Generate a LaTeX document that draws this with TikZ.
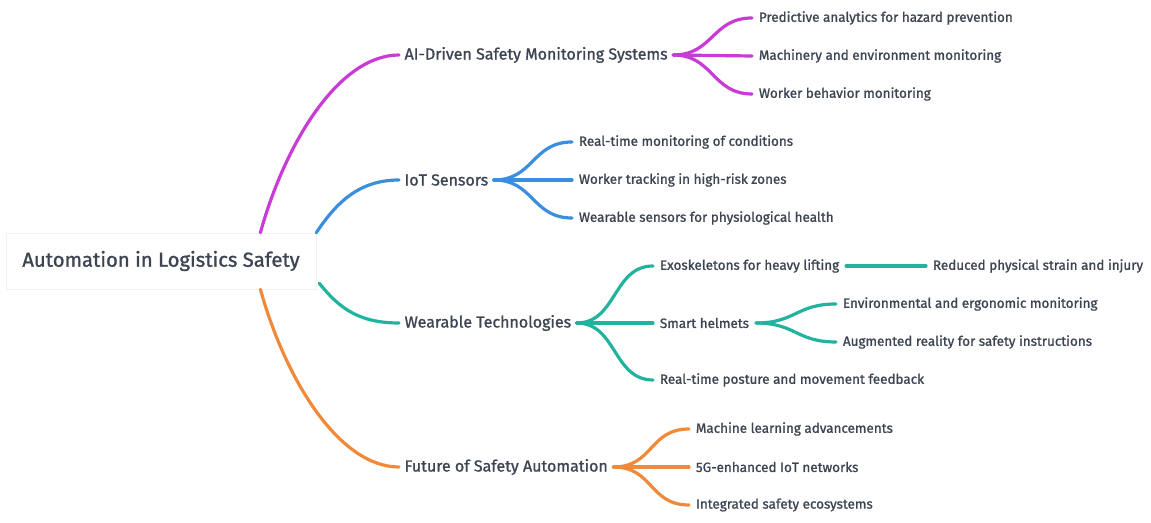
\documentclass[tikz,border=0pt]{standalone}
\usepackage{fontspec}
\setmainfont{Fira Sans}[FakeBold=1.2]
\usetikzlibrary{calc}
\definecolor{txt}{HTML}{3D4452}
\definecolor{cpur}{HTML}{C83BD6}
\definecolor{cblu}{HTML}{3A8EE0}
\definecolor{cgrn}{HTML}{22B39E}
\definecolor{corg}{HTML}{F08A3A}
\begin{document}
\begin{tikzpicture}[x=0.75pt,y=-0.75pt,
  lbl/.style={anchor=west,inner xsep=5pt,inner ysep=2pt,text=txt,font=\fontsize{10.1}{12}\selectfont},
  main/.style={anchor=west,inner xsep=4pt,inner ysep=2pt,text=txt,font=\fontsize{12}{14}\selectfont},
  conn/.style={line width=2.4pt,line cap=round}]
\useasboundingbox (0,0) rectangle (1151,523);
% root
\node[draw=black!5,fill=white,minimum width=310*0.75pt,minimum height=56*0.75pt,inner sep=0pt,text=txt,font=\fontsize{15.2}{17}\selectfont] (root) at (161,261) {Automation in Logistics Safety};
% level 1
\node[main] (a) at (399,55) {AI-Driven Safety Monitoring Systems};
\node[main] (b) at (399,180) {IoT Sensors};
\node[main] (c) at (399,323) {Wearable Technologies};
\node[main] (d) at (399,467) {Future of Safety Automation};
% AI
\node[lbl] (a1) at (752,18) {Predictive analytics for hazard prevention};
\node[lbl] (a2) at (752,56) {Machinery and environment monitoring};
\node[lbl] (a3) at (752,94) {Worker behavior monitoring};
% IoT
\node[lbl] (b1) at (572,142) {Real-time monitoring of conditions};
\node[lbl] (b2) at (572,180) {Worker tracking in high-risk zones};
\node[lbl] (b3) at (572,218) {Wearable sensors for physiological health};
% Wearable
\node[lbl] (c1) at (653,266) {Exoskeletons for heavy lifting};
\node[lbl] (c1r) at (926,266) {Reduced physical strain and injury};
\node[lbl] (c2) at (653,323) {Smart helmets};
\node[lbl] (c2a) at (836,304) {Environmental and ergonomic monitoring};
\node[lbl] (c2b) at (836,342) {Augmented reality for safety instructions};
\node[lbl] (c3) at (653,380) {Real-time posture and movement feedback};
% Future
\node[lbl] (d1) at (689,429) {Machine learning advancements};
\node[lbl] (d2) at (689,467) {5G-enhanced IoT networks};
\node[lbl] (d3) at (689,505) {Integrated safety ecosystems};
% root connectors
\draw[conn,cpur] ($(root.north west)!0.82!(root.north east)$) .. controls +(25,-90) and +(-60,0) .. (a.west);
\draw[conn,cblu] (root.north east) .. controls +(20,-30) and +(-40,0) .. (b.west);
\draw[conn,cgrn] ($(root.south east)+(3,-6)$) .. controls +(20,25) and +(-40,0) .. (c.west);
\draw[conn,corg] ($(root.south west)!0.82!(root.south east)$) .. controls +(25,90) and +(-60,0) .. (d.west);
% child connectors
\foreach \t in {a1,a2,a3}{\draw[conn,cpur] (a.east) .. controls +(40,0) and +(-40,0) .. (\t.west);}
\foreach \t in {b1,b2,b3}{\draw[conn,cblu] (b.east) .. controls +(40,0) and +(-40,0) .. (\t.west);}
\foreach \t in {c1,c2,c3}{\draw[conn,cgrn] (c.east) .. controls +(40,0) and +(-40,0) .. (\t.west);}
\draw[conn,cgrn] (c1.east) -- (c1r.west);
\foreach \t in {c2a,c2b}{\draw[conn,cgrn] (c2.east) .. controls +(40,0) and +(-40,0) .. (\t.west);}
\foreach \t in {d1,d2,d3}{\draw[conn,corg] (d.east) .. controls +(40,0) and +(-40,0) .. (\t.west);}
\end{tikzpicture}
\end{document}
